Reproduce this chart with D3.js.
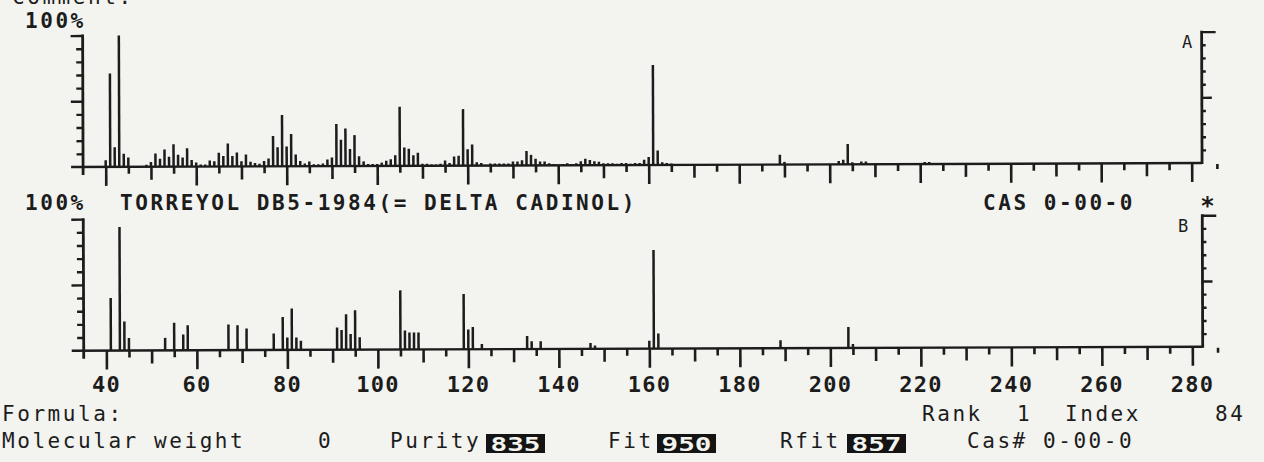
<!DOCTYPE html>
<html>
<head>
<meta charset="utf-8">
<script src="https://cdn.jsdelivr.net/npm/d3@7"></script>
<style>
  html, body { margin: 0; padding: 0; background: #f3f3f0; }
  svg { display: block; }
</style>
</head>
<body>
<svg id="chart" width="1264" height="462"></svg>
<script>
// Unknown spectrum (A): m/z and relative intensity in %
const massA = [40,41,42,43,44,45,49,50,51,52,53,54,55,56,57,58,59,60,61,62,63,64,65,66,67,68,69,70,71,72,73,74,75,76,77,78,79,80,81,82,83,84,85,86,87,88,89,90,91,92,93,94,95,96,97,98,99,100,101,102,103,104,105,106,107,108,109,110,111,112,113,114,115,116,117,118,119,120,121,122,123,125,126,127,128,129,130,131,132,133,134,135,136,137,138,139,141,142,143,144,145,146,147,148,149,150,151,152,153,154,155,156,157,158,159,160,161,162,163,164,165,189,190,202,203,204,205,207,208,221,222];
const intensA = [5,71,15,100,10,7,1.5,3.5,10,6,13,7.5,17,9,7,14,5,3,1.5,1.5,4.5,4,10.5,8,17.5,8,10.5,4,9,3.5,2.5,2,4,6,23,14.5,39,15,24.5,9,4,2,3.5,1.5,1.5,2,5,6.5,32,20,28.5,13,23.5,7.5,3.5,1.5,1.5,1.5,2.5,4,5,8,45,14,13,8,10,1.5,1.5,1,1,1.5,4,2,7,7.5,43,12.5,16,2.5,2,1.5,1.5,1.5,1.5,1.5,3,3,4,11,8,5,3,3,1.5,1,1,1.5,1,1.5,3,5,4,3,2.5,1.5,1.5,1.5,1,1.5,1.5,1,1.5,1.5,4,6,76,11,2,1.5,1,7.5,2,2.5,3.5,15.5,1.5,2,2,1.5,1.5];

// Library spectrum (B): m/z and relative intensity in %
const massB = [41,43,44,45,53,55,57,58,67,69,71,77,79,80,81,82,83,91,92,93,94,95,96,105,106,107,108,109,119,120,121,123,133,134,136,147,148,160,161,162,189,204,205];
const intensB = [40,94,22,9.5,9.5,21,12,19,19.5,19,16.5,12.5,25,9.5,31.5,9.5,7,17,15,27,12,30,9.5,45,14.5,13,13,13,42,15,17,4,10,6,6,4.5,2.5,6,75,11.5,6,16,3];

// Axis labelling
const massTicks = d3.range(40, 281, 5);
const massTickLabels = [40, 60, 80, 100, 120, 140, 160, 180, 200, 220, 240, 260, 280];
const percentTicks = d3.range(10, 101, 10);

// Header and search-result fields
const compoundName = "TORREYOL DB5-1984(= DELTA CADINOL)";
const casLibrary = "0-00-0";
const molecularWeight = 0;
const purity = 835, fit = 950, rfit = 857;
const rank = 1, hitIndex = 84;
const casHit = "0-00-0";

const ink = "#1c1c1c";
const svg = d3.select("#chart");

const x = d3.scaleLinear().domain([35, 282.3]).range([83.4, 1202.4]);

const panels = [
  { key: "A", mass: massA, inten: intensA, y: d3.scaleLinear().domain([0, 100]).range([165.0, 33.6]) },
  { key: "B", mass: massB, inten: intensB, y: d3.scaleLinear().domain([0, 100]).range([348.7, 217.2]) }
];

// the plotted graphics sit on a very slight slant
const plot = svg.append("g").attr("transform", "rotate(-0.2 643 257)").attr("color", ink);

panels.forEach(p => {
  const g = plot.append("g").attr("class", "panel-" + p.key);
  const y0 = p.y(0);
  const peaks = p.mass.map((m, i) => ({ m, v: p.inten[i] }));

  // peak sticks
  g.selectAll("rect.peak").data(peaks).join("rect")
    .attr("class", "peak")
    .attr("x", d => x(d.m) - 1.25)
    .attr("width", 2.5)
    .attr("y", d => p.y(d.v))
    .attr("height", d => y0 - p.y(d.v))
    .attr("fill", ink);

  // mass ticks below the baseline: long every 20, medium every 10, short every 5
  const gx = g.append("g").attr("transform", `translate(0,${y0})`)
    .call(d3.axisBottom(x).tickValues(massTicks).tickSize(7).tickFormat(""));
  gx.select(".domain").remove();
  gx.selectAll(".tick line")
    .attr("y2", d => d % 20 === 0 ? 19 : (d % 10 === 0 ? 13 : 7))
    .attr("stroke-width", 2.6);

  // baseline
  g.append("line")
    .attr("x1", x(35) - 12).attr("x2", x(x.domain()[1]))
    .attr("y1", y0).attr("y2", y0)
    .attr("stroke", ink).attr("stroke-width", 2.4);

  // left intensity axis
  const gl = g.append("g").attr("transform", `translate(${x(35)},0)`)
    .call(d3.axisLeft(p.y).tickValues(percentTicks).tickSize(7).tickFormat(""));
  gl.select(".domain").remove();
  gl.selectAll(".tick line")
    .attr("x2", d => d % 50 === 0 ? -12 : -6.5)
    .attr("stroke-width", 2.4);
  g.append("line")
    .attr("x1", x(35)).attr("x2", x(35))
    .attr("y1", p.y(100) - 1).attr("y2", y0 + 8)
    .attr("stroke", ink).attr("stroke-width", 2.8);

  // right intensity axis
  const xr = x(x.domain()[1]);
  const gr = g.append("g").attr("transform", `translate(${xr},0)`)
    .call(d3.axisRight(p.y).tickValues(percentTicks).tickSize(4).tickFormat(""));
  gr.select(".domain").remove();
  gr.selectAll(".tick line")
    .attr("x2", d => d === 100 ? 14 : (d === 50 ? 10 : 4))
    .attr("stroke-width", 2.4);
  g.append("line")
    .attr("x1", xr).attr("x2", xr)
    .attr("y1", p.y(100) - 1).attr("y2", y0 + 1)
    .attr("stroke", ink).attr("stroke-width", 2.8);

  // end-of-axis mark
  g.append("rect")
    .attr("x", xr + 14).attr("y", y0 + 1)
    .attr("width", 2.6).attr("height", 5)
    .attr("fill", ink);
});

// ---- text ----
const mono = "'DejaVu Sans Mono', monospace";
const txt = svg.append("g").attr("fill", ink).style("font-family", mono);

function label(str, px, py, opts = {}) {
  return txt.append("text")
    .attr("x", px).attr("y", py)
    .attr("font-size", opts.size || 21)
    .attr("font-weight", opts.weight || "bold")
    .attr("letter-spacing", opts.ls !== undefined ? opts.ls : 2.56)
    .attr("text-anchor", opts.anchor || "start")
    .attr("fill", opts.fill || ink)
    .text(str);
}

// partially visible comment line at the very top
label("Comment:", 12, 4, { weight: "normal" });

label("100%", 25, 28);
label("100%", 25, 210);
label(compoundName, 120, 210);
label("CAS " + casLibrary, 983, 210);
label("*", 1207.5, 214, { size: 24, ls: 0, anchor: "middle" });
label("A", 1182, 48, { size: 17, weight: "normal", ls: 0 });
label("B", 1178, 232, { size: 17, weight: "normal", ls: 0 });

// mass labels under the lower panel
const gLab = svg.append("g").attr("transform", "translate(0,392)");
gLab.call(d3.axisBottom(x).tickValues(massTickLabels).tickSize(0).tickPadding(0).tickFormat(d3.format("d")));
gLab.select(".domain").remove();
gLab.selectAll(".tick text")
  .attr("dy", 0)
  .attr("fill", ink)
  .style("font-family", mono)
  .attr("font-size", 22)
  .attr("font-weight", "bold")
  .attr("letter-spacing", 1.2);

// search-result lines
const small = { weight: "normal" };
label("Formula:", 2, 421, small);
label("Rank", 922, 421, small);
label(String(rank), 1017, 421, small);
label("Index", 1065, 421, small);
label(String(hitIndex), 1215, 421, small);

label("Molecular weight", 2, 448, small);
label(String(molecularWeight), 318, 448, small);
label("Purity", 390, 448, small);
label("Fit", 608, 448, small);
label("Rfit", 780, 448, small);
label("Cas# " + casHit, 967, 448, small);

// highlighted score boxes
[[purity, 486], [fit, 657], [rfit, 847]].forEach(([val, bx]) => {
  txt.append("rect").attr("x", bx).attr("y", 434).attr("width", 59).attr("height", 19).attr("fill", "#141414");
  txt.append("text")
    .attr("x", bx + 29.5).attr("y", 450.5)
    .attr("text-anchor", "middle")
    .attr("font-size", 19).attr("font-weight", "bold")
    .attr("fill", "#f3f3f0")
    .attr("textLength", 50).attr("lengthAdjust", "spacingAndGlyphs")
    .text(String(val));
});
</script>
</body>
</html>
